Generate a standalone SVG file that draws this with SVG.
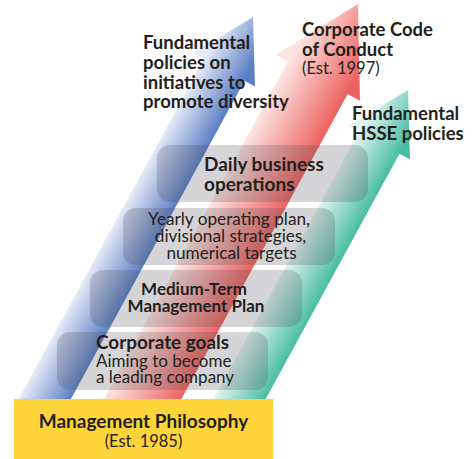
<svg xmlns="http://www.w3.org/2000/svg" width="476" height="459" viewBox="0 0 476 459">
  <defs>
    <style>
      text { font-family: Lato, "Open Sans", "Liberation Sans", sans-serif; fill: #231f20; }
      .b { font-weight: 700; }
      .r { font-weight: 400; }
      .panel { fill: #4e5157; fill-opacity: 0.24; }
    </style>
    <!-- cross-shaft shading, defined in each arrow's local frame -->
    <linearGradient id="gBlue" gradientUnits="userSpaceOnUse" x1="-23" y1="0" x2="23" y2="0">
      <stop offset="0" stop-color="#e6ebf7"/>
      <stop offset="1" stop-color="#5a7ec4"/>
    </linearGradient>
    <linearGradient id="gRed" gradientUnits="userSpaceOnUse" x1="-34" y1="0" x2="34" y2="0">
      <stop offset="0" stop-color="#fde6e2"/>
      <stop offset="1" stop-color="#ec625f"/>
    </linearGradient>
    <linearGradient id="gGreen" gradientUnits="userSpaceOnUse" x1="-23" y1="0" x2="23" y2="0">
      <stop offset="0" stop-color="#e2f4ef"/>
      <stop offset="1" stop-color="#49bda3"/>
    </linearGradient>
    <clipPath id="aboveBase">
      <rect x="0" y="0" width="476" height="402"/>
    </clipPath>
  </defs>

  <!-- rising arrows -->
  <g id="connectors" clip-path="url(#aboveBase)">
    <path id="arrow-diversity" transform="translate(253,17) rotate(28.6)" fill="url(#gBlue)"
          d="M0,0 L35,60 L23,60 L23,480 L-23,480 L-23,60 L-35,60 Z"/>
    <path id="arrow-conduct" transform="translate(358,4) rotate(28.6)" fill="url(#gRed)"
          d="M0,0 L48,84 L34,84 L34,500 L-34,500 L-34,84 L-48,84 Z"/>
    <path id="arrow-hsse" transform="translate(408,90) rotate(28.6)" fill="url(#gGreen)"
          d="M0,0 L35,60 L23,60 L23,400 L-23,400 L-23,60 L-35,60 Z"/>
  </g>

  <!-- arrow labels -->
  <g id="label-diversity">
    <text class="b" font-size="18.5" x="143" y="49">Fundamental</text>
    <text class="b" font-size="18.5" x="143" y="69">policies on</text>
    <text class="b" font-size="18.5" x="143" y="88.5">initiatives to</text>
    <text class="b" font-size="18.5" x="143" y="108">promote diversity</text>
  </g>
  <g id="label-conduct">
    <text class="b" font-size="18.5" x="302" y="36">Corporate Code</text>
    <text class="b" font-size="18.5" x="302" y="56">of Conduct</text>
    <text class="r" font-size="16.5" x="302" y="74">(Est. 1997)</text>
  </g>
  <g id="label-hsse">
    <text class="b" font-size="18.5" x="352" y="120">Fundamental</text>
    <text class="b" font-size="18.5" x="352" y="140">HSSE policies</text>
  </g>

  <!-- stacked panels -->
  <g id="daily-operations">
    <rect class="panel" x="157" y="145" width="211" height="57" rx="13"/>
    <text class="b" font-size="19" x="204" y="170.5">Daily business</text>
    <text class="b" font-size="19" x="204" y="190.5">operations</text>
  </g>
  <g id="yearly-plan">
    <rect class="panel" x="123" y="208" width="212" height="57" rx="13"/>
    <text class="r" font-size="17.2" text-anchor="middle" x="229" y="225">Yearly operating plan,</text>
    <text class="r" font-size="17.2" text-anchor="middle" x="230.5" y="242">divisional strategies,</text>
    <text class="r" font-size="17.2" text-anchor="middle" x="231.5" y="258.5">numerical targets</text>
  </g>
  <g id="medium-term-plan">
    <rect class="panel" x="90" y="270" width="212" height="57" rx="13"/>
    <text class="b" font-size="17" text-anchor="middle" x="194" y="295">Medium-Term</text>
    <text class="b" font-size="17" text-anchor="middle" x="196" y="311.5">Management Plan</text>
  </g>
  <g id="corporate-goals">
    <rect class="panel" x="57" y="332" width="211" height="58" rx="13"/>
    <text class="b" font-size="18.9" x="96" y="349">Corporate goals</text>
    <text class="r" font-size="17" x="96" y="366.5">Aiming to become</text>
    <text class="r" font-size="17" x="96" y="383">a leading company</text>
  </g>

  <!-- foundation -->
  <g id="management-philosophy">
    <rect x="14" y="399" width="259" height="60" fill="#fed43b"/>
    <text class="b" font-size="19" text-anchor="middle" x="143.5" y="428">Management Philosophy</text>
    <text class="r" font-size="16.5" text-anchor="middle" x="143.5" y="447">(Est. 1985)</text>
  </g>
</svg>
